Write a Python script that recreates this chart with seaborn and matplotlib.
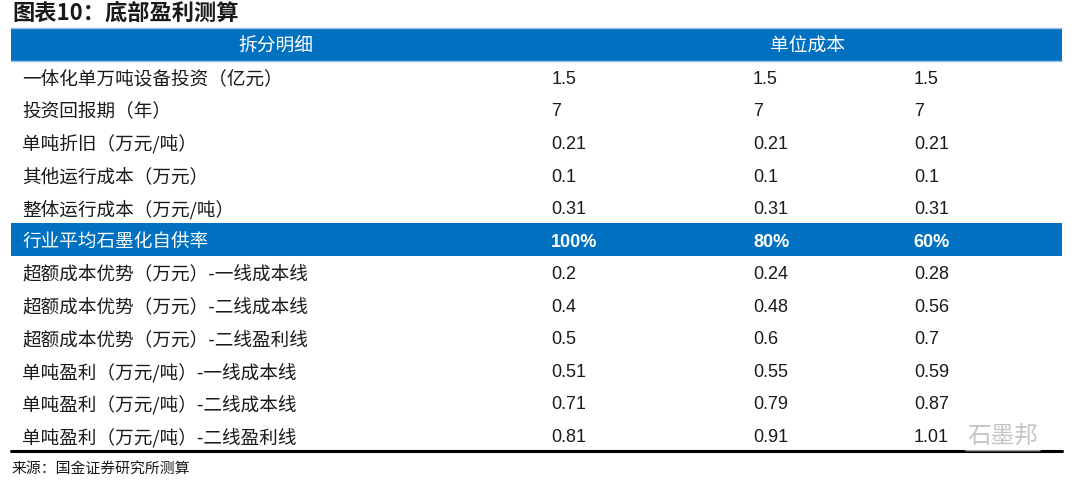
"""
plot.py
Recreates the table "图表10：底部盈利测算" as a seaborn figure.
Row backgrounds come from a one-column heatmap, the cell texts are placed on top.
"""

import matplotlib
matplotlib.use("Agg")
import matplotlib.pyplot as plt
from matplotlib.colors import ListedColormap
import numpy as np
import seaborn as sns

BLUE = "#0070C0"

# ---- data -------------------------------------------------------------
header_left  = "拆分明细"
header_right = "单位成本"

row_labels = [
    "一体化单万吨设备投资（亿元）",
    "投资回报期（年）",
    "单吨折旧（万元/吨）",
    "其他运行成本（万元）",
    "整体运行成本（万元/吨）",
    "行业平均石墨化自供率",
    "超额成本优势（万元）-一线成本线",
    "超额成本优势（万元）-二线成本线",
    "超额成本优势（万元）-二线盈利线",
    "单吨盈利（万元/吨）-一线成本线",
    "单吨盈利（万元/吨）-二线成本线",
    "单吨盈利（万元/吨）-二线盈利线",
]
col_100 = ["1.5", "7", "0.21", "0.1", "0.31", "100%", "0.2", "0.4", "0.5", "0.51", "0.71", "0.81"]
col_80  = ["1.5", "7", "0.21", "0.1", "0.31", "80%", "0.24", "0.48", "0.6", "0.55", "0.79", "0.91"]
col_60  = ["1.5", "7", "0.21", "0.1", "0.31", "60%", "0.28", "0.56", "0.7", "0.59", "0.87", "1.01"]
highlight_rows = ["行业平均石墨化自供率"]

title  = "图表10：底部盈利测算"
source = "来源：国金证券研究所测算"

# ---- figure ----------------------------------------------------------
sns.set_theme(style="white")
plt.rcParams["font.family"] = ["Noto Sans CJK SC", "DejaVu Sans"]

fig = plt.figure(figsize=(10.8, 4.85), dpi=100)
W, H = 1080, 485
left, right, top, bottom = 11, 1062, 29, 452
ax = fig.add_axes([left / W, 1 - bottom / H, (right - left) / W, (bottom - top) / H])

# one flag per row: header + data rows, 1 = blue band
flags = np.array([[1]] + [[1 if lab in highlight_rows else 0] for lab in row_labels])
sns.heatmap(flags, cmap=ListedColormap(["white", BLUE]), vmin=0, vmax=1,
            cbar=False, linewidths=0, ax=ax)
ax.set_xticks([])
ax.set_yticks([])
for s in ax.spines.values():
    s.set_visible(False)

n_rows = len(flags)
ax.axhline(n_rows, color="black", lw=2.2, clip_on=False)
ax.axhline(0, color="#9dc3e6", lw=1, clip_on=False)
ax.axhline(1, color="#9dc3e6", lw=1, clip_on=False)

# header text
ax.text(0.252, 0.5, header_left, color="white", fontsize=13.5,
        ha="center", va="center")
ax.text(0.758, 0.5, header_right, color="white", fontsize=13.5,
        ha="center", va="center")

val_x = [0.514, 0.706, 0.859]
for i, lab in enumerate(row_labels):
    y = i + 1.55
    hl = lab in highlight_rows
    color = "white" if hl else "#1a1a1a"
    ax.text(0.0105, y, lab, color=color, fontsize=13.4, ha="left", va="center")
    for x, col in zip(val_x, [col_100, col_80, col_60]):
        ax.text(x, y, col[i], color=color, fontsize=13, ha="left", va="center",
                family=["Liberation Sans", "DejaVu Sans"],
                fontweight="bold" if hl else "normal")

# watermark
ax.text(0.91, n_rows - 0.45, "石墨邦", color="#c4c4c4", fontsize=17, ha="left",
        va="center",
        bbox=dict(boxstyle="round,pad=0.15", fc="white", ec="none", alpha=0.6))

fig.text(12 / W, 1 - 13 / H, title, fontsize=16, fontweight="bold", style="italic",
         ha="left", va="center", color="#1a1a1a")
fig.text(12 / W, 1 - 469 / H, source, fontsize=10.7, ha="left", va="center", color="#1a1a1a")

fig.savefig("out.png", dpi=100)
plt.close(fig)
